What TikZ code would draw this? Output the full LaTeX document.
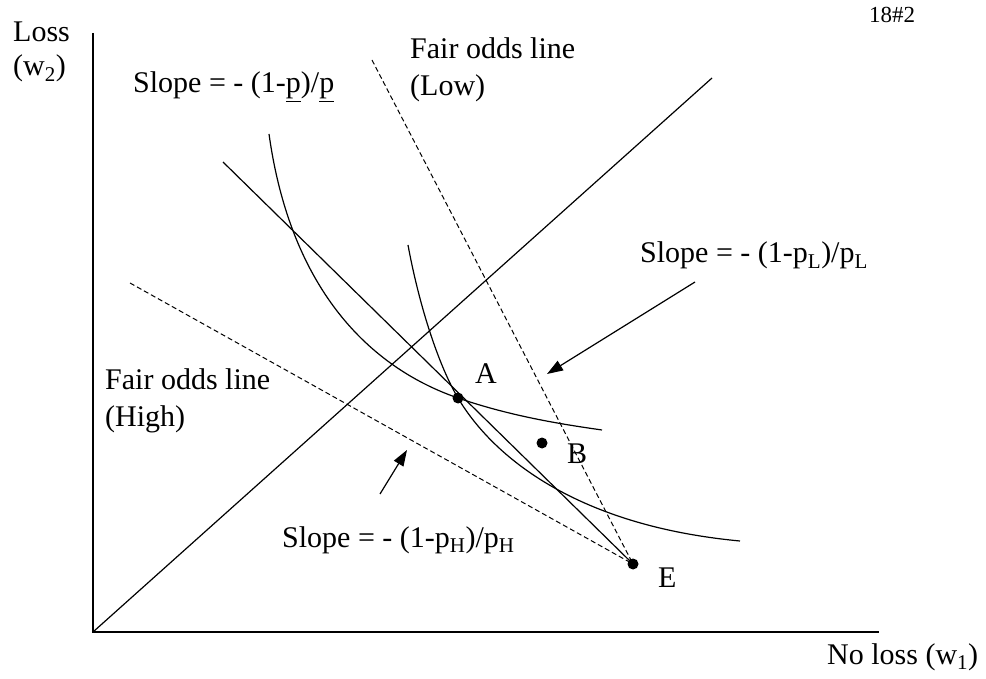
\documentclass[tikz,border=0pt]{standalone}
\usepackage{fontspec}
\setmainfont{Liberation Serif}
\usetikzlibrary{arrows.meta}
\begin{document}
\begin{tikzpicture}[x=1pt,y=-1pt,
 lbl/.style={anchor=base west,inner sep=0pt,font=\fontsize{30}{34}\selectfont},
 axis/.style={line width=1.8pt},
 ln/.style={line width=1.2pt},
 dsh/.style={line width=1pt,dash pattern=on 5pt off 3pt},
 dot/.style={circle,fill=black,inner sep=0pt,minimum size=11pt},
 pointer/.style={line width=1.2pt,-{Triangle[length=16pt,width=11pt]}}]
\useasboundingbox (0,0) rectangle (986,679);
% coordinates
\coordinate (O) at (93,632);
\coordinate (ytop) at (93,33);
\coordinate (xend) at (879,632);
\coordinate (diag) at (712,78);
\coordinate (budtop) at (223,162);
\coordinate (lowtop) at (372,60);
\coordinate (hightop) at (130,283);
\coordinate (ic1top) at (269,134);
\coordinate (ic1end) at (602,430);
\coordinate (ic2top) at (408,245);
\coordinate (ic2end) at (740,541);
\node[dot] (A) at (458,398) {};
\node[dot] (B) at (542,443) {};
\node[dot] (E) at (633,564) {};
% axes and lines
\draw[axis] (ytop) -- (O) -- (xend);
\draw[ln] (O) -- (diag);
\draw[ln] (budtop) -- (E.center);
\draw[dsh] (lowtop) -- (E.center);
\draw[dsh] (hightop) -- (E.center);
% indifference curves
\draw[ln] (ic1top) .. controls (295,320) and (400,378) .. (A.center)
          .. controls (510,416) and (560,424) .. (ic1end);
\draw[ln] (ic2top) .. controls (420,310) and (440,368) .. (A.center)
          .. controls (490,452) and (570,525) .. (ic2end);
% pointers
\coordinate (tL) at (695,282);
\coordinate (hL) at (547,374);
\draw[pointer] (tL) -- (hL);
\coordinate (tH) at (380,494);
\coordinate (hH) at (407,450);
\draw[pointer] (tH) -- (hH);
% labels
\node[lbl] (loss) at (13,42) {Loss};
\node[lbl] (w2) at (13,76) {(w\textsubscript{2})};
\node[lbl] (slope) at (133,93) {Slope = - (1-\underline{p})/\underline{p}};
\node[lbl] (fol) at (410,59) {Fair odds line};
\node[lbl] (lowlbl) at (410,96) {(Low)};
\node[lbl] (slopeL) at (640,263) {Slope = - (1-p\textsubscript{L})/p\textsubscript{L}};
\node[lbl] (foh) at (105,389) {Fair odds line};
\node[lbl] (highlbl) at (105,426) {(High)};
\node[lbl] (la) at (475,383) {A};
\node[lbl] (lb) at (567,463) {B};
\node[lbl] (le) at (658,587) {E};
\node[lbl] (slopeH) at (282,547) {Slope = - (1-p\textsubscript{H})/p\textsubscript{H}};
\node[lbl] (nl) at (827,664) {No loss (w\textsubscript{1})};
\node[anchor=base west,inner sep=0pt,font=\fontsize{23}{27}\selectfont] (tag) at (869,23) {18\#2};
\end{tikzpicture}
\end{document}
